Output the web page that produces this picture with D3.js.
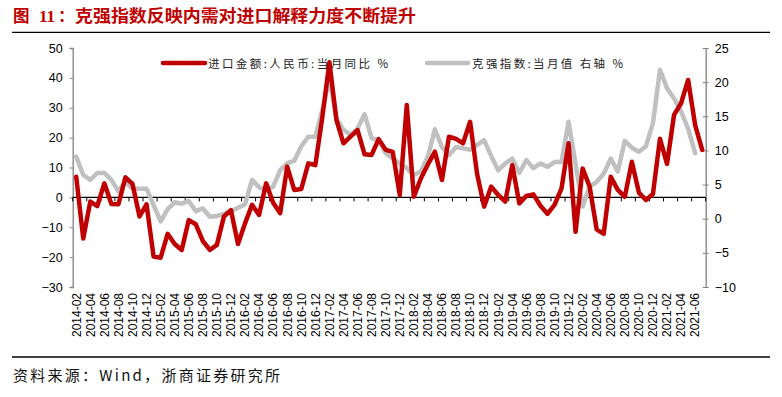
<!DOCTYPE html>
<html><head><meta charset="utf-8">
<script src="https://cdn.jsdelivr.net/npm/d3@7"></script>
<style>body{margin:0;background:#fff}svg{display:block}</style>
</head><body><svg id="c" width="782" height="397"></svg>
<script>
const months = ["2014-02","2014-03","2014-04","2014-05","2014-06","2014-07","2014-08","2014-09","2014-10","2014-11","2014-12",
"2015-01","2015-02","2015-03","2015-04","2015-05","2015-06","2015-07","2015-08","2015-09","2015-10","2015-11","2015-12",
"2016-01","2016-02","2016-03","2016-04","2016-05","2016-06","2016-07","2016-08","2016-09","2016-10","2016-11","2016-12",
"2017-01","2017-02","2017-03","2017-04","2017-05","2017-06","2017-07","2017-08","2017-09","2017-10","2017-11","2017-12",
"2018-01","2018-02","2018-03","2018-04","2018-05","2018-06","2018-07","2018-08","2018-09","2018-10","2018-11","2018-12",
"2019-01","2019-02","2019-03","2019-04","2019-05","2019-06","2019-07","2019-08","2019-09","2019-10","2019-11","2019-12",
"2020-01","2020-02","2020-03","2020-04","2020-05","2020-06","2020-07","2020-08","2020-09","2020-10","2020-11","2020-12",
"2021-01","2021-02","2021-03","2021-04","2021-05","2021-06","2021-07"];
const importYoY = [6.9,-13.8,-1.4,-2.9,4.7,-2.2,-2.3,6.7,4.5,-6.4,-2.3,
-19.8,-20.2,-12.2,-15.6,-17.6,-7.6,-9.0,-14.6,-17.6,-15.9,-6.4,-4.3,
-15.6,-8.7,-2.5,-5.9,4.7,-1.8,-5.3,10.3,2.5,2.8,11.4,10.8,
27.0,45.2,25.9,18.1,20.3,22.5,14.4,14.2,19.5,15.9,15.2,0.8,
30.9,0.2,6.3,11.0,15.3,5.8,20.3,19.6,18.1,25.3,7.8,-3.1,
3.6,0.8,-1.4,10.8,-2.0,0.5,1.0,-2.8,-5.5,-2.5,3.0,18.1,
-11.5,9.7,3.6,-10.7,-12.2,6.9,2.5,0.2,11.9,1.6,-0.9,1.1,
19.6,11.2,27.6,31.5,39.3,24.2,15.9];
const keqiang = [9.1,6.4,5.7,6.7,6.7,5.7,4.0,5.4,4.4,4.4,4.4,
2.0,-0.4,1.4,2.4,2.2,2.6,1.1,1.5,0.3,0.4,0.7,1.1,
1.6,2.1,5.7,4.6,4.2,4.7,7.1,8.1,8.5,10.6,12.0,12.0,
15.9,20.5,14.7,13.0,12.3,13.2,15.3,11.8,11.5,9.6,8.8,8.1,
7.4,6.4,6.9,9.1,13.1,10.5,9.3,10.5,10.3,10.1,10.8,11.5,
9.2,7.1,8.1,8.8,6.7,8.6,7.4,8.1,7.6,8.3,8.3,14.2,
8.0,1.8,4.7,5.4,6.6,8.8,6.9,11.4,10.4,9.8,10.6,14.0,
21.8,19.1,17.6,15.7,13.2,9.6,null];
const leftTicks = [50,40,30,20,10,0,-10,-20,-30];
const rightTicks = [25,20,15,10,5,0,-5,-10];
const xLabels = months.filter((m,i)=>i%2===0);
const seriesNames = ["进口金额:人民币:当月同比 %","克强指数:当月值 右轴 %"];
const titleText = ["图","11：","克强指数反映内需对进口解释力度不断提升"];
const sourceText = "资料来源：Wind，浙商证券研究所";

const RED="#c00000", GRAY="#c0c0c0";
const svg=d3.select("#c");
const L=72.7,R=705.7,T=48,B=287;
const x=d3.scaleBand().domain(months).range([L,R]).padding(0);
const cx=m=>x(m)+x.bandwidth()/2;
const yL=d3.scaleLinear().domain([-30,50]).range([B,T]);
const yR=d3.scaleLinear().domain([-10,25]).range([B,T]);

// title
const tt=svg.append("text").attr("y",22).attr("fill",RED).attr("font-weight","bold")
  .attr("font-family","'Noto Sans CJK SC',sans-serif").attr("font-size",16.5);
tt.append("tspan").attr("x",13).text(titleText[0]);
tt.append("tspan").attr("x",39).attr("font-family","'Liberation Serif',serif").attr("font-size",17).text(titleText[1].slice(0,2));
tt.append("tspan").attr("x",58).text(titleText[1].slice(2));
tt.append("tspan").attr("x",75).attr("textLength",341).attr("lengthAdjust","spacingAndGlyphs").text(titleText[2]);
svg.append("line").attr("x1",12).attr("x2",770).attr("y1",32.3).attr("y2",32.3).attr("stroke","#000").attr("stroke-width",1.3);

// source
svg.append("line").attr("x1",12).attr("x2",770).attr("y1",357).attr("y2",357).attr("stroke","#000").attr("stroke-width",1.3);
svg.append("text").attr("x",13).attr("y",381).attr("font-family","'Noto Sans CJK SC',sans-serif").attr("font-size",15)
  .attr("fill","#111").attr("textLength",267).attr("lengthAdjust","spacing").text(sourceText);

// left axis
const gl=svg.append("g").attr("transform",`translate(${L},0)`)
  .call(d3.axisLeft(yL).tickValues(leftTicks).tickSize(3).tickPadding(7));
gl.select(".domain").attr("stroke","#808080").attr("stroke-width",1.3);
gl.selectAll(".tick line").attr("stroke","#808080");
gl.selectAll("text").attr("font-family","'Liberation Sans',Arial,sans-serif").attr("font-size",12.5).attr("fill","#000");

// right axis
const gr=svg.append("g").attr("transform",`translate(${R},0)`)
  .call(d3.axisRight(yR).tickValues(rightTicks).tickSize(0).tickPadding(9));
gr.select(".domain").attr("stroke","#808080").attr("stroke-width",1.3);
gr.selectAll(".tick").append("line").attr("x1",-3).attr("x2",3).attr("stroke","#808080");
gr.selectAll("text").attr("font-family","'Liberation Sans',Arial,sans-serif").attr("font-size",12.5).attr("fill","#000");

// x axis at zero
const y0=yL(0);
svg.append("line").attr("x1",L).attr("x2",R).attr("y1",y0).attr("y2",y0).attr("stroke","#000").attr("stroke-width",1.2);
svg.append("g").selectAll("line").data(xLabels).join("line")
  .attr("x1",d=>x(d)).attr("x2",d=>x(d)).attr("y1",y0).attr("y2",y0+4).attr("stroke","#000");
svg.append("line").attr("x1",R).attr("x2",R).attr("y1",y0).attr("y2",y0+4).attr("stroke","#000");
svg.append("g").selectAll("text").data(xLabels).join("text")
  .attr("transform",d=>`translate(${cx(d)+4.3},293) rotate(-90)`)
  .attr("text-anchor","end").attr("font-family","'Liberation Sans',Arial,sans-serif").attr("font-size",12)
  .attr("fill","#000").text(d=>d);

// lines
const lg=d3.line().defined(d=>d.v!=null).x(d=>cx(d.m));
svg.append("path").datum(months.map((m,i)=>({m,v:keqiang[i]})))
  .attr("d",lg.y(d=>yR(d.v))).attr("fill","none").attr("stroke",GRAY).attr("stroke-width",4.5)
  .attr("stroke-linejoin","round").attr("stroke-linecap","round");
svg.append("path").datum(months.map((m,i)=>({m,v:importYoY[i]})))
  .attr("d",lg.y(d=>yL(d.v))).attr("fill","none").attr("stroke",RED).attr("stroke-width",4.5)
  .attr("stroke-linejoin","round").attr("stroke-linecap","round");

// legend
const leg=[{c:RED,x1:163,x2:205,tx:208,tl:180},{c:GRAY,x1:427,x2:468,tx:472,tl:151}];
leg.forEach((l,i)=>{
  svg.append("line").attr("x1",l.x1).attr("x2",l.x2).attr("y1",63).attr("y2",63)
    .attr("stroke",l.c).attr("stroke-width",4.5).attr("stroke-linecap","round");
  svg.append("text").attr("x",l.tx).attr("y",67.5).attr("font-family","'Noto Sans CJK SC',sans-serif")
    .attr("font-size",11.5).attr("fill","#222").attr("textLength",l.tl).attr("lengthAdjust","spacing").text(seriesNames[i]);
});
</script></body></html>
